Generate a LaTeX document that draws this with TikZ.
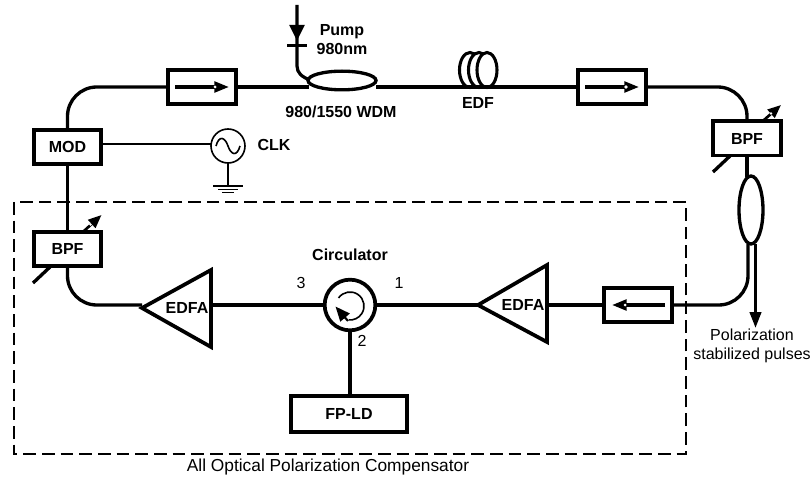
\documentclass[tikz,border=0pt]{standalone}
\usepackage{fontspec}
\setmainfont{Liberation Sans}
\usetikzlibrary{arrows.meta,shapes.geometric}
\tikzset{
 x=0.75pt,y=-0.75pt,
 fib/.style={line width=2.5pt},
 thin fib/.style={line width=1.2pt},
 dev/.style={draw,line width=2.8pt,fill=white,rectangle,outer sep=0pt,inner sep=0pt,minimum width=50.5pt,minimum height=25.7pt,font=\bfseries\fontsize{12pt}{14pt}\selectfont},
 lbl/.style={inner sep=0pt,font=\bfseries\fontsize{12pt}{14.25pt}\selectfont,align=center},
 reg/.style={inner sep=0pt,font=\fontsize{12pt}{14.25pt}\selectfont,align=center},
 coil/.style={draw,fill=white,line width=2.3pt},
 iso arrow/.style={line width=2.4pt,-{Triangle[length=11pt,width=8pt]}},
 tune arrow/.style={line width=2pt,-{Triangle[length=10pt,width=8pt]}},
 notch/.style={fill=white,draw=none},
}
\begin{document}
\begin{tikzpicture}
\useasboundingbox (0,0) rectangle (811,481);
% dashed box
\coordinate (dbA) at (14,202);
\coordinate (dbB) at (686,454);
\draw[line width=1.4pt,dash pattern=on 9.5pt off 4.5pt] (dbA) rectangle (dbB);
% devices
\node[dev] (mod) at (67.5,147) {MOD};
\node[dev] (bpfL) at (67.5,249) {BPF};
\node[dev] (bpfR) at (747,138.5) {BPF};
\node[dev] (iso1) at (202,87) {};
\node[dev] (iso2) at (612,87) {};
\node[dev] (iso3) at (638,305) {};
\node[dev,minimum width=87pt,minimum height=27pt] (fpld) at (349,414) {FP-LD};
\node[draw,fill=white,circle,line width=2.8pt,minimum size=38pt,inner sep=0pt,outer sep=0pt] (circ) at (350,305) {};
\node[draw,fill=white,ellipse,line width=2.5pt,minimum width=51pt,minimum height=14pt,inner sep=0pt,outer sep=0pt] (wdm) at (342,80.5) {};
\node[draw,fill=white,ellipse,line width=2.5pt,minimum width=18pt,minimum height=51pt,inner sep=0pt,outer sep=0pt] (cpl) at (751,210) {};
\node[draw,circle,line width=1.2pt,minimum size=25.5pt,inner sep=0pt,outer sep=0pt] (clk) at (228,146) {};
% amplifiers
\coordinate (e1t) at (142,308);
\coordinate (e1a) at (211,270);
\coordinate (e1b) at (211,347);
\coordinate (e1m) at (211,305);
\draw[line width=2.8pt,line join=miter] (e1t) -- (e1a) -- (e1b) -- cycle;
\coordinate (e2t) at (478,305);
\coordinate (e2a) at (547,265);
\coordinate (e2b) at (547,342);
\coordinate (e2m) at (547,305);
\draw[line width=2.8pt,line join=miter] (e2t) -- (e2a) -- (e2b) -- cycle;
\node[lbl] (e1l) at (187,308) {EDFA};
\node[lbl] (e2l) at (523,305) {EDFA};
% connectors
\draw[fib,rounded corners=22pt] (mod.north) |- (iso1.west);
\coordinate (wl) at (309,87);
\draw[fib] (iso1.east) -- (wl);
\coordinate (wr) at (376,87);
% EDF coil
\coordinate (cl1) at (470,70);
\coordinate (cl2) at (479,70);
\coordinate (cl3) at (487,70);
\path[coil] (cl1) ellipse [x radius=10.5,y radius=17.5];
\path[coil] (cl2) ellipse [x radius=10.5,y radius=17.5];
\path[coil] (cl3) ellipse [x radius=10,y radius=17.5];
\draw[fib] (wr) -- (iso2.west);
\draw[fib,rounded corners=22pt] (iso2.east) -| (bpfR.north);
\coordinate (cplT) at (747,177);
\draw[fib] (bpfR.south) -- (cplT);
\coordinate (c1) at (748,244);
\coordinate (c2) at (755.5,244);
\coordinate (tip) at (755.5,328);
\draw[fib,rounded corners=22pt] (c1) |- (iso3.east);
\draw[line width=2.4pt,-{Triangle[length=12pt,width=8.5pt]}] (c2) -- (tip);
\draw[fib] (iso3.west) -- (e2m);
\draw[fib] (e2t) -- (circ.east);
\draw[fib] (circ.west) -- (e1m);
\coordinate (e1o) at (142,305);
\draw[fib,rounded corners=22pt] (e1o) -| (bpfL.south);
\draw[fib] (mod.south) -- (bpfL.north);
\draw[fib] (circ.south) -- (fpld.north -| circ.south);
% pump
\coordinate (p0) at (297,5);
\coordinate (p1) at (297,66);
\coordinate (p2) at (310,80);
\draw[line width=2.4pt] (p0) -- (p1) .. controls (297,73) and (302,77) .. (p2);
\coordinate (pa) at (297,25);
\coordinate (pb) at (297,41);
\draw[line width=2.4pt,-{Triangle[length=12pt,width=11pt]}] (pa) -- (pb);
\coordinate (t1) at (287,45.5);
\coordinate (t2) at (307,45.5);
\draw[line width=2.4pt] (t1) -- (t2);
% isolator arrows
\coordinate (a1) at (175,87);\coordinate (b1) at (229,87);
\draw[iso arrow] (a1) -- (b1);
\fill[notch] (215,87) circle [radius=1.5];
\coordinate (a2) at (585,87);\coordinate (b2) at (639,87);
\draw[iso arrow] (a2) -- (b2);
\fill[notch] (626,87) circle [radius=1.8];
\coordinate (a3) at (665,305);\coordinate (b3) at (612,305);
\draw[iso arrow] (a3) -- (b3);
\fill[notch] (625,305) circle [radius=1.5];
% tunable markers
\coordinate (bL1) at (33,283);\coordinate (bL2) at (50,267);
\coordinate (bL3) at (84,231);\coordinate (bL4) at (101.5,215);
\draw[line width=2.5pt] (bL1) -- (bL2);
\draw[tune arrow] (bL3) -- (bL4);
\fill[notch] (90.5,224.5) circle [radius=1.3];
\coordinate (bR1) at (713,172);\coordinate (bR2) at (730,156);
\coordinate (bR3) at (764,120);\coordinate (bR4) at (781,105);
\draw[line width=2.5pt] (bR1) -- (bR2);
\draw[tune arrow] (bR3) -- (bR4);
\fill[notch] (771,113.5) circle [radius=1.3];
% clock
\coordinate (modc) at (102,144);
\coordinate (clkc) at (211,144);
\draw[thin fib] (modc) -- (clkc);
\draw[line width=1.2pt] (216,146) .. controls (219,135) and (225,137) .. (228,146) .. controls (231,155) and (237,157) .. (240,146);
\coordinate (g0) at (228,186);
\draw[thin fib] (clk.south) -- (g0);
\coordinate (g1a) at (213,186);\coordinate (g1b) at (243,186);
\coordinate (g2a) at (218,189.5);\coordinate (g2b) at (238,189.5);
\coordinate (g3a) at (222,192.5);\coordinate (g3b) at (234,192.5);
\draw[thin fib] (g1a) -- (g1b);
\draw[thin fib] (g2a) -- (g2b);
\draw[thin fib] (g3a) -- (g3b);
% circulator glyph
\coordinate (rc) at (350,306);
\draw[line width=1.2pt] (rc) ++(215:14) arc [start angle=215,end angle=455,radius=14];
\coordinate (r1) at (348,321);
\coordinate (r2) at (335.5,306.5);
\draw[line width=1.6pt,-{Triangle[length=11pt,width=9pt]}] (r1) -- (r2);
% labels
\node[lbl] (lp) at (342,39.5) {Pump\\980nm};
\node[lbl] (lw) at (341,112) {980/1550 WDM};
\node[lbl] (le) at (478,103) {EDF};
\node[lbl] (lc) at (274,145) {CLK};
\node[lbl] (lcc) at (350,255) {Circulator};
\node[reg] (p3) at (301,283) {3};
\node[reg] (p1l) at (399,283) {1};
\node[reg] (p2l) at (362,341) {2};
\node[reg] (pol) at (752,345.5) {Polarization\\stabilized pulses};
\node[reg,font=\fontsize{13pt}{15pt}\selectfont] (apc) at (328,467) {All Optical Polarization Compensator};
\end{tikzpicture}
\end{document}
